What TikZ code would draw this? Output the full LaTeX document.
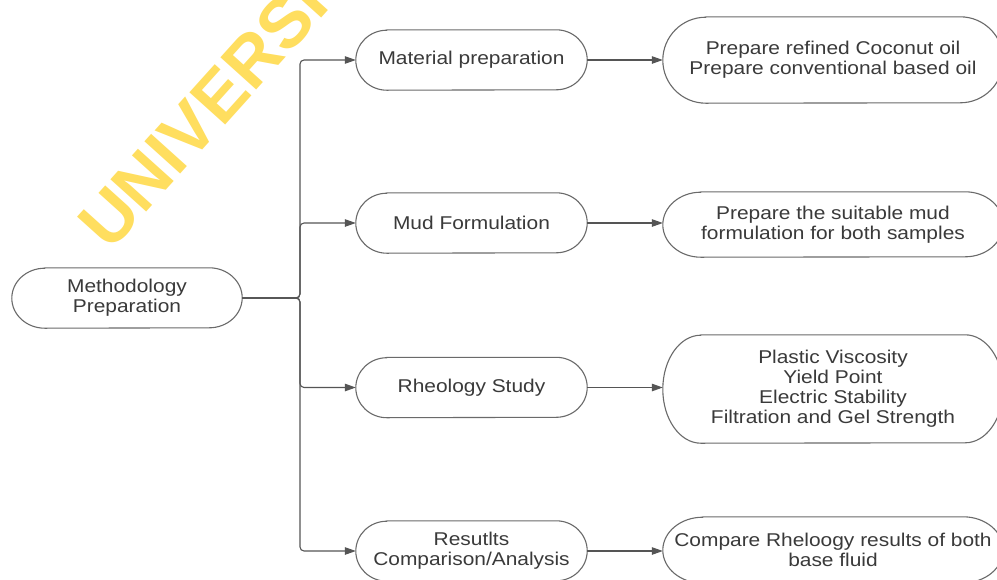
\documentclass[tikz,border=0pt]{standalone}
\usepackage{fontspec}
\usetikzlibrary{arrows.meta}
\newfontfamily\diafont[FakeStretch=1.13]{Liberation Sans}
\newfontfamily\wmfont{Liberation Sans}
\definecolor{txtgray}{HTML}{3A3A3A}
\definecolor{edgegray}{HTML}{6A6A6A}
\definecolor{linegray}{HTML}{555555}
\definecolor{wmyellow}{RGB}{255,222,95}

% capsule outline around a node: #1 node, #2 horizontal end radius, #3 half height
\newcommand\capsule[3]{%
  \draw[capline] ([xshift=#2pt]#1.north west) -- ([xshift=-#2pt]#1.north east)
    arc[start angle=90,end angle=-90,x radius=#2pt,y radius=#3pt]
    -- ([xshift=#2pt]#1.south west)
    arc[start angle=270,end angle=90,x radius=#2pt,y radius=#3pt] -- cycle;}

\tikzset{
  capline/.style={draw=edgegray, line width=1.1pt},
  textbox/.style={draw=none, inner sep=0pt, align=center, text=txtgray,
    font=\diafont\fontsize{18.5}{20}\selectfont},
  branch/.style={draw=linegray, line width=1.1pt, rounded corners=4pt,
    -{Triangle[length=11pt,width=7.5pt]}},
}

\begin{document}
\begin{tikzpicture}[x=1pt,y=-1pt]
\useasboundingbox (0,0) rectangle (997,579);
\clip (0,0) rectangle (997,579);
\fill[white] (0,0) rectangle (997,579);

% watermark
\node[rotate=48, anchor=base west, inner sep=0pt, text=wmyellow,
  font=\wmfont\bfseries\fontsize{70}{70}\selectfont] (wm) at (110,253) {UNIVERSIT};

% nodes
\node[textbox, minimum width=230, minimum height=60] (m) at (127,298) {Methodology\\Preparation};

\node[textbox, minimum width=231, minimum height=60] (a1) at (471.5,60) {Material preparation};
\node[textbox, minimum width=231, minimum height=60] (a2) at (471.5,223) {Mud Formulation};
\node[textbox, minimum width=231, minimum height=60] (a3) at (471.5,387.5) {Rheology Study};
\node[textbox, minimum width=231, minimum height=60] (a4) at (471.5,551) {Resutlts\\Comparison/Analysis};

\node[textbox, minimum width=340, minimum height=86] (b1) at (833,60)
  {Prepare refined Coconut oil\\Prepare conventional based oil};
\node[textbox, minimum width=340, minimum height=65] (b2) at (833,224.5)
  {Prepare the suitable mud\\formulation for both samples};
\node[textbox, minimum width=340, minimum height=108] (b3) at (833,389)
  {Plastic Viscosity\\Yield Point\\Electric Stability\\Filtration and Gel Strength};
\node[textbox, minimum width=340, minimum height=66] (b4) at (833,550)
  {Compare Rheloogy results of both\\base fluid};

% outlines
\capsule{m}{33}{30}
\capsule{a1}{31}{30}
\capsule{a2}{31}{30}
\capsule{a3}{31}{30}
\capsule{a4}{31}{30}
\capsule{b1}{43}{43}
\capsule{b2}{38}{32.5}
\capsule{b3}{38}{54}
\capsule{b4}{40}{33}

% trunk junction
\coordinate (tj) at (300,298);

% connectors
\draw[branch] (m.east) -- (tj) |- (a1.west);
\draw[branch] (m.east) -- (tj) |- (a2.west);
\draw[branch] (m.east) -- (tj) |- (a3.west);
\draw[branch] (m.east) -- (tj) |- (a4.west);

\draw[branch] (a1.east) -- (a1.east -| b1.west);
\draw[branch] (a2.east) -- (a2.east -| b2.west);
\draw[branch] (a3.east) -- (a3.east -| b3.west);
\draw[branch] (a4.east) -- (a4.east -| b4.west);
\end{tikzpicture}
\end{document}
